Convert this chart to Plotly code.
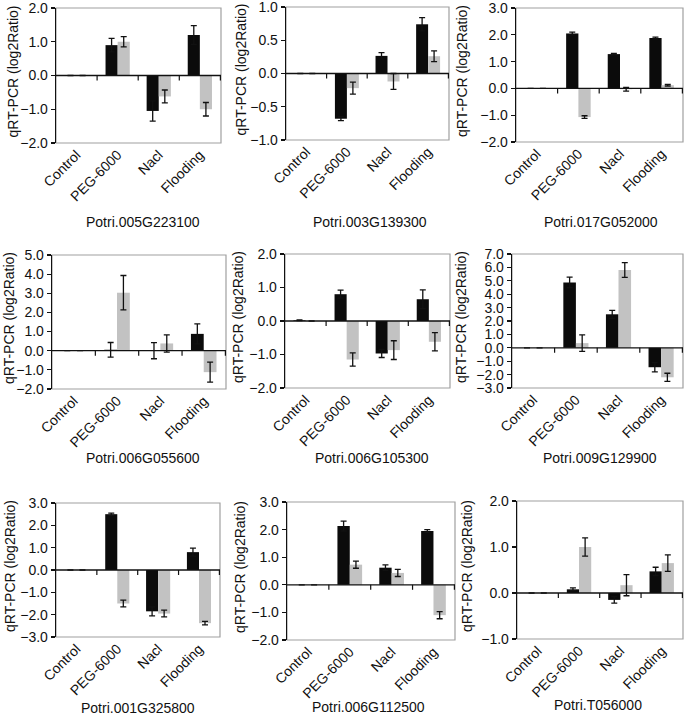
import plotly.graph_objects as go

W, H = 685, 724

categories = ["Control", "PEG-6000", "Nacl", "Flooding"]

genes = ["Potri.005G223100", "Potri.003G139300", "Potri.017G052000",
         "Potri.006G055600", "Potri.006G105300", "Potri.009G129900",
         "Potri.001G325800", "Potri.006G112500", "Potri.T056000"]

black_vals = [
    [0, 0.90, -1.05, 1.20],
    [0, -0.68, 0.265, 0.74],
    [0, 2.05, 1.28, 1.88],
    [0, 0.05, 0.0, 0.88],
    [0.02, 0.80, -0.97, 0.65],
    [0, 4.88, 2.50, -1.45],
    [0, 2.50, -1.85, 0.80],
    [0, 2.13, 0.62, 1.95],
    [0, 0.08, -0.15, 0.47],
]
black_errs = [
    [0, 0.20, 0.30, 0.28],
    [0, 0.03, 0.05, 0.10],
    [0, 0.05, 0.03, 0.03],
    [0, 0.38, 0.42, 0.52],
    [0.01, 0.12, 0.12, 0.28],
    [0, 0.40, 0.30, 0.35],
    [0, 0.05, 0.20, 0.18],
    [0, 0.18, 0.10, 0.05],
    [0, 0.03, 0.07, 0.09],
]
gray_vals = [
    [0, 1.00, -0.62, -1.00],
    [0, -0.22, -0.12, 0.26],
    [0, -1.07, -0.03, 0.12],
    [0, 3.03, 0.38, -1.12],
    [0, -1.15, -0.87, -0.62],
    [0, 0.35, 5.80, -2.20],
    [0, -1.50, -1.95, -2.38],
    [0, 0.73, 0.43, -1.10],
    [0, 1.00, 0.17, 0.65],
]
gray_errs = [
    [0, 0.15, 0.19, 0.20],
    [0, 0.09, 0.12, 0.08],
    [0, 0.05, 0.07, 0.03],
    [0, 0.90, 0.45, 0.52],
    [0, 0.20, 0.28, 0.27],
    [0, 0.62, 0.55, 0.30],
    [0, 0.15, 0.15, 0.08],
    [0, 0.13, 0.13, 0.13],
    [0, 0.20, 0.23, 0.18],
]
y_ranges = [(-2, 2), (-1, 1), (-2, 3),
            (-2, 5), (-2, 2), (-3, 7),
            (-3, 3), (-2, 3), (-1, 2)]
y_dticks = [1, 0.5, 1, 1, 1, 1, 1, 1, 1]

# pixel boxes of plot areas: (left, right, top, bottom)
boxes = [(56, 221, 8, 143), (286, 449, 7, 140), (516, 683, 8, 142),
         (52, 226, 255, 389), (285, 450, 254, 388), (512, 683, 254, 388),
         (56, 220, 503, 637), (287, 455, 502, 640), (517, 683, 501, 639)]
title_pos = [(143, 222), (370, 222), (601, 222),
             (143, 458), (372, 458), (600, 458),
             (138, 708), (368, 707), (598, 705)]
ytitle_x = [12, 240, 462, 9, 238, 461, 10, 240, 467]

FONT = "Arial, 'Liberation Sans', Helvetica, sans-serif"
BLACK = "#0b0b0b"
GRAY = "#c2c2c2"

fig = go.Figure()
layout = dict(width=W, height=H, margin=dict(l=0, r=0, t=0, b=0, autoexpand=False),
              paper_bgcolor="white", plot_bgcolor="white", showlegend=False,
              barmode="group", bargap=0.41, bargroupgap=0.0,
              font=dict(family=FONT, size=14, color="#111"))
shapes = []
annotations = []

for i in range(9):
    n = "" if i == 0 else str(i + 1)
    xa, ya = "x" + n, "y" + n
    L, R, T, B = boxes[i]
    err_style = dict(type="data", visible=True, color="#111", thickness=1.3, width=3)
    fig.add_trace(go.Bar(x=categories, y=black_vals[i], marker_color=BLACK, marker_line_width=0,
                         error_y=dict(array=black_errs[i], **err_style),
                         xaxis=xa, yaxis=ya, offsetgroup="a", hoverinfo="skip"))
    fig.add_trace(go.Bar(x=categories, y=gray_vals[i], marker_color=GRAY, marker_line_width=0,
                         error_y=dict(array=gray_errs[i], **err_style),
                         xaxis=xa, yaxis=ya, offsetgroup="b", hoverinfo="skip"))
    layout["xaxis" + n] = dict(domain=[L / W, R / W], anchor=ya, type="category",
                               tickangle=-45, showline=False, ticks="", showgrid=False,
                               zeroline=False, tickfont=dict(size=14, color="#111"),
                               automargin=False, fixedrange=True, ticklabeloverflow="allow")
    y0, y1 = y_ranges[i]
    layout["yaxis" + n] = dict(domain=[1 - B / H, 1 - T / H], anchor=xa, range=[y0, y1],
                               dtick=y_dticks[i], tick0=0, tickformat=".1f",
                               showline=True, linecolor="#111", linewidth=1.3,
                               ticks="outside", ticklen=4, tickwidth=1.2, tickcolor="#111",
                               showgrid=False, zeroline=False, automargin=False,
                               fixedrange=True, ticklabeloverflow="allow",
                               tickfont=dict(size=14, color="#111"))
    # gray frame
    shapes.append(dict(type="rect", xref=xa + " domain", yref=ya + " domain",
                       x0=0, x1=1, y0=0, y1=1, line=dict(color="#a0a0a0", width=1.2),
                       layer="below"))
    # zero axis line
    shapes.append(dict(type="line", xref=xa + " domain", yref=ya, x0=0, x1=1, y0=0, y1=0,
                       line=dict(color="#111", width=1.3)))
    for b in [0.5, 1.5, 2.5, 3.5]:
        shapes.append(dict(type="line", xref=xa, yref=ya, ysizemode="pixel", yanchor=0,
                           x0=b, x1=b, y0=0, y1=-5, line=dict(color="#111", width=1.2)))
    tx, ty = title_pos[i]
    annotations.append(dict(text=genes[i], xref="paper", yref="paper", x=tx / W, y=1 - ty / H,
                            showarrow=False, xanchor="center", yanchor="middle",
                            font=dict(size=14, color="#111")))
    annotations.append(dict(text="qRT-PCR (log2Ratio)", xref="paper", yref="paper",
                            x=ytitle_x[i] / W, y=1 - ((T + B) / 2 - 4) / H, textangle=-90,
                            showarrow=False, xanchor="center", yanchor="middle",
                            font=dict(size=14, color="#111")))

layout["shapes"] = shapes
layout["annotations"] = annotations
fig.update_layout(**layout)
fig.write_html("out.html", config={"displayModeBar": False, "staticPlot": True},
               post_script="document.body.style.margin='0';document.body.style.padding='0';")
